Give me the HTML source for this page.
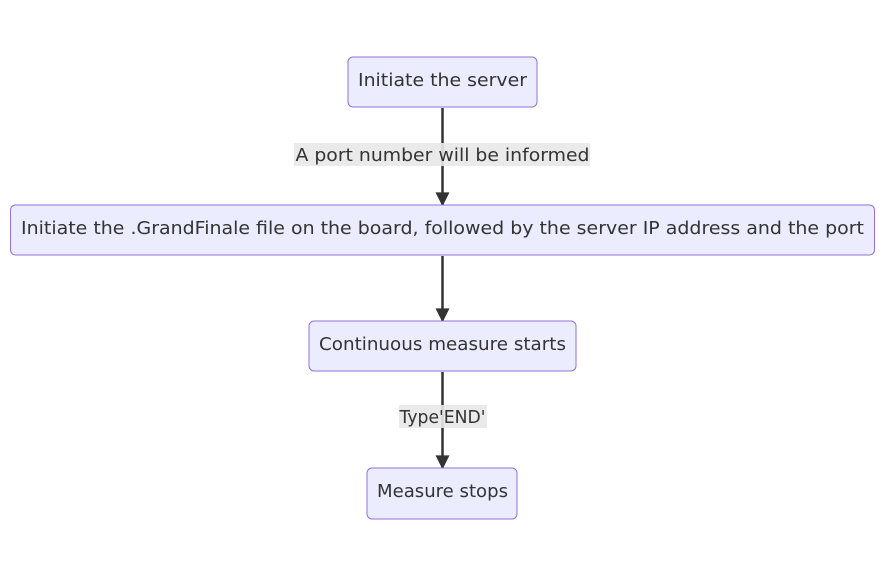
<!DOCTYPE html>
<html><head><meta charset="utf-8"><style>
html,body{margin:0;padding:0;background:#fff;}
svg{display:block;}
text{font-family:"DejaVu Sans","Liberation Sans",sans-serif;font-size:18px;fill:#333;}
</style></head><body>
<svg width="885" height="577" viewBox="0 0 885 577" xmlns="http://www.w3.org/2000/svg">
<defs><marker id="a" viewBox="0 0 10 10" refX="9" refY="5" markerWidth="16" markerHeight="14" markerUnits="userSpaceOnUse" orient="auto"><path d="M0,0L10,5L0,10z" fill="#333"/></marker></defs>
<g stroke="#333" stroke-width="2.5" fill="none">
<line x1="442.5" y1="108" x2="442.5" y2="205" marker-end="url(#a)"/>
<line x1="442.5" y1="256" x2="442.5" y2="321" marker-end="url(#a)"/>
<line x1="442.5" y1="372" x2="442.5" y2="468" marker-end="url(#a)"/>
</g>
<rect x="294" y="143" width="296" height="23" fill="#e8e8e8" opacity="0.9"/>
<text x="442.5" y="161" text-anchor="middle" textLength="294" lengthAdjust="spacingAndGlyphs">A port number will be informed</text>
<rect x="399" y="405" width="88" height="23" fill="#e8e8e8" opacity="0.9"/>
<text x="442.5" y="423" text-anchor="middle" textLength="86" lengthAdjust="spacingAndGlyphs">Type'END'</text>
<g fill="#ECECFF" stroke="#9370DB" stroke-width="1">
<rect x="348" y="57" width="189" height="50" rx="5"/>
<rect x="10.5" y="205" width="864" height="50" rx="5"/>
<rect x="309" y="321" width="267" height="50" rx="5"/>
<rect x="367" y="468" width="150" height="51" rx="5"/>
</g>
<text x="442.5" y="86" text-anchor="middle" textLength="169" lengthAdjust="spacingAndGlyphs">Initiate the server</text>
<text x="442.5" y="234" text-anchor="middle" textLength="843" lengthAdjust="spacingAndGlyphs">Initiate the .GrandFinale file on the board, followed by the server IP address and the port</text>
<text x="442.5" y="350" text-anchor="middle" textLength="247" lengthAdjust="spacingAndGlyphs">Continuous measure starts</text>
<text x="442.5" y="497" text-anchor="middle" textLength="131" lengthAdjust="spacingAndGlyphs">Measure stops</text>
</svg>
</body></html>
